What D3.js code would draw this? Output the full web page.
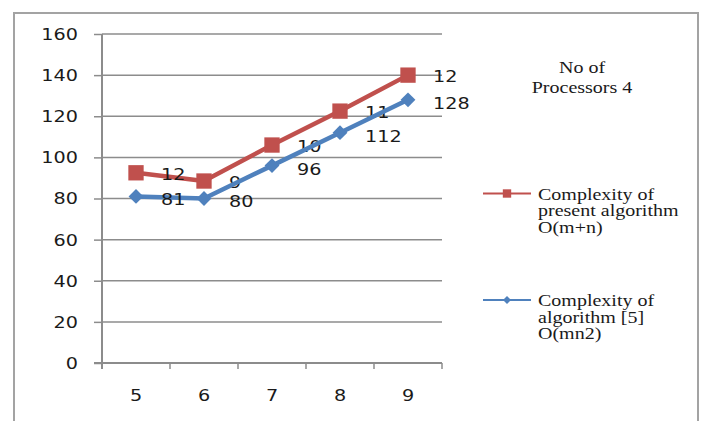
<!DOCTYPE html>
<html>
<head>
<meta charset="utf-8">
<script src="https://cdn.jsdelivr.net/npm/d3@7"></script>
<style>
  html, body { margin: 0; padding: 0; background: #fff; }
  svg { display: block; }
</style>
</head>
<body>
<svg id="chart" width="705" height="421"></svg>
<script>
// ---- data ----
const categories = ["5", "6", "7", "8", "9"];
const presentValues = [92.5, 88.5, 106, 122.5, 140];
const presentLabels = ["12", "9", "10", "11", "12"];
const refValues = [81, 80, 96, 112, 128];
const refLabels = ["81", "80", "96", "112", "128"];
const yTicks = [0, 20, 40, 60, 80, 100, 120, 140, 160];
const titleLines = ["No of", "Processors 4"];
const presentName = ["Complexity of", "present algorithm", "O(m+n)"];
const refName = ["Complexity of", "algorithm [5]", "O(mn2)"];

// ---- layout ----
const SX = 1.28;        // horizontal stretch of the sans text
const SXS = 1.25;       // horizontal stretch of the serif text
const sans = "'DejaVu Sans', Verdana, sans-serif";
const serif = "'Liberation Serif', 'Times New Roman', serif";
const red = "#C0504D", blue = "#4F81BD", grid = "#8c8c8c", ink = "#1a1a1a";

const svg = d3.select("#chart");
svg.append("rect").attr("width", 705).attr("height", 421).attr("fill", "#fff");
svg.append("rect").attr("x", 14).attr("y", 13).attr("width", 684).attr("height", 430)
  .attr("fill", "none").attr("stroke", "#a3a3a3").attr("stroke-width", 2);

const x = d3.scaleBand().domain(categories).range([102, 442]);
const y = d3.scaleLinear().domain([0, 160]).range([363, 34]);
const cx = c => x(c) + x.bandwidth() / 2;

// gridlines
svg.append("g").selectAll("line").data(yTicks.filter(d => d > 0)).join("line")
  .attr("x1", 102).attr("x2", 442)
  .attr("y1", d => y(d)).attr("y2", d => y(d))
  .attr("stroke", grid).attr("stroke-width", 1.5);

// y axis
const yAxis = svg.append("g").attr("transform", "translate(102,0)")
  .call(d3.axisLeft(y).tickValues(yTicks).tickSize(8).tickSizeOuter(0));
yAxis.select(".domain").remove();
yAxis.append("line").attr("x1", 0).attr("x2", 0).attr("y1", y(160)).attr("y2", y(0) + 6)
  .attr("stroke", grid).attr("stroke-width", 2);
yAxis.selectAll(".tick line").attr("stroke", grid).attr("stroke-width", 1.5);
yAxis.selectAll(".tick text")
  .attr("x", -24 / SX).attr("dy", "0.36em")
  .attr("transform", `scale(${SX},1)`)
  .style("font-family", sans).style("font-size", "15px").attr("fill", ink);

// x axis
const xAxis = svg.append("g").attr("transform", "translate(0,363)")
  .call(d3.axisBottom(x).tickSize(0).tickSizeOuter(0));
xAxis.select(".domain").remove();
xAxis.append("line").attr("x1", 94).attr("x2", 442).attr("y1", 0).attr("y2", 0)
  .attr("stroke", grid).attr("stroke-width", 2);
xAxis.selectAll(".tick text")
  .attr("y", 27).attr("dy", "0.71em")
  .attr("transform", `scale(${SX},1)`)
  .style("font-family", sans).style("font-size", "15px").attr("fill", ink);
const tickPos = categories.map(c => x(c)).concat([x.range()[1]]);
xAxis.append("g").selectAll("line").data(tickPos).join("line")
  .attr("x1", d => d).attr("x2", d => d).attr("y1", 0).attr("y2", 6)
  .attr("stroke", grid).attr("stroke-width", 1.5);

// series
const line = d3.line().x((d, i) => cx(categories[i])).y(d => y(d));

function drawSeries(values, labels, color, size, rot, labelDy) {
  const g = svg.append("g");
  g.append("path").datum(values).attr("d", line)
    .attr("fill", "none").attr("stroke", color).attr("stroke-width", 4.5)
    .attr("stroke-linejoin", "round");
  g.selectAll("path.m").data(values).join("path").attr("class", "m")
    .attr("transform", (d, i) => `translate(${cx(categories[i])},${y(d)}) rotate(${rot})`)
    .attr("d", d3.symbol().type(d3.symbolSquare).size(size)())
    .attr("fill", color);
  g.selectAll("text").data(values).join("text")
    .attr("transform", (d, i) => `translate(${cx(categories[i]) + 25},${y(d) + labelDy}) scale(${SX},1)`)
    .attr("dy", "0.36em")
    .style("font-family", sans).style("font-size", "15px").attr("fill", ink)
    .text((d, i) => labels[i]);
}
drawSeries(presentValues, presentLabels, red, 235, 0, 1.5);
drawSeries(refValues, refLabels, blue, 110, 45, 3.5);

// title
svg.append("g").selectAll("text").data(titleLines).join("text")
  .attr("transform", (d, i) => `translate(582,${73 + i * 20}) scale(${SXS},1)`)
  .attr("text-anchor", "middle")
  .style("font-family", serif).style("font-size", "16px").attr("fill", ink)
  .text(d => d);

// legend
function legendItem(yLine, color, size, rot, lines) {
  const g = svg.append("g");
  g.append("line").attr("x1", 483).attr("x2", 531).attr("y1", yLine).attr("y2", yLine)
    .attr("stroke", color).attr("stroke-width", 2);
  g.append("path").attr("transform", `translate(507,${yLine}) rotate(${rot})`)
    .attr("d", d3.symbol().type(d3.symbolSquare).size(size)()).attr("fill", color);
  g.selectAll("text").data(lines).join("text")
    .attr("transform", (d, i) => `translate(538,${yLine + 6 + i * 16.7}) scale(${SXS},1)`)
    .style("font-family", serif).style("font-size", "16px").attr("fill", ink)
    .text(d => d);
}
legendItem(193.5, red, 70, 0, presentName);
legendItem(300, blue, 32, 45, refName);
</script>
</body>
</html>
